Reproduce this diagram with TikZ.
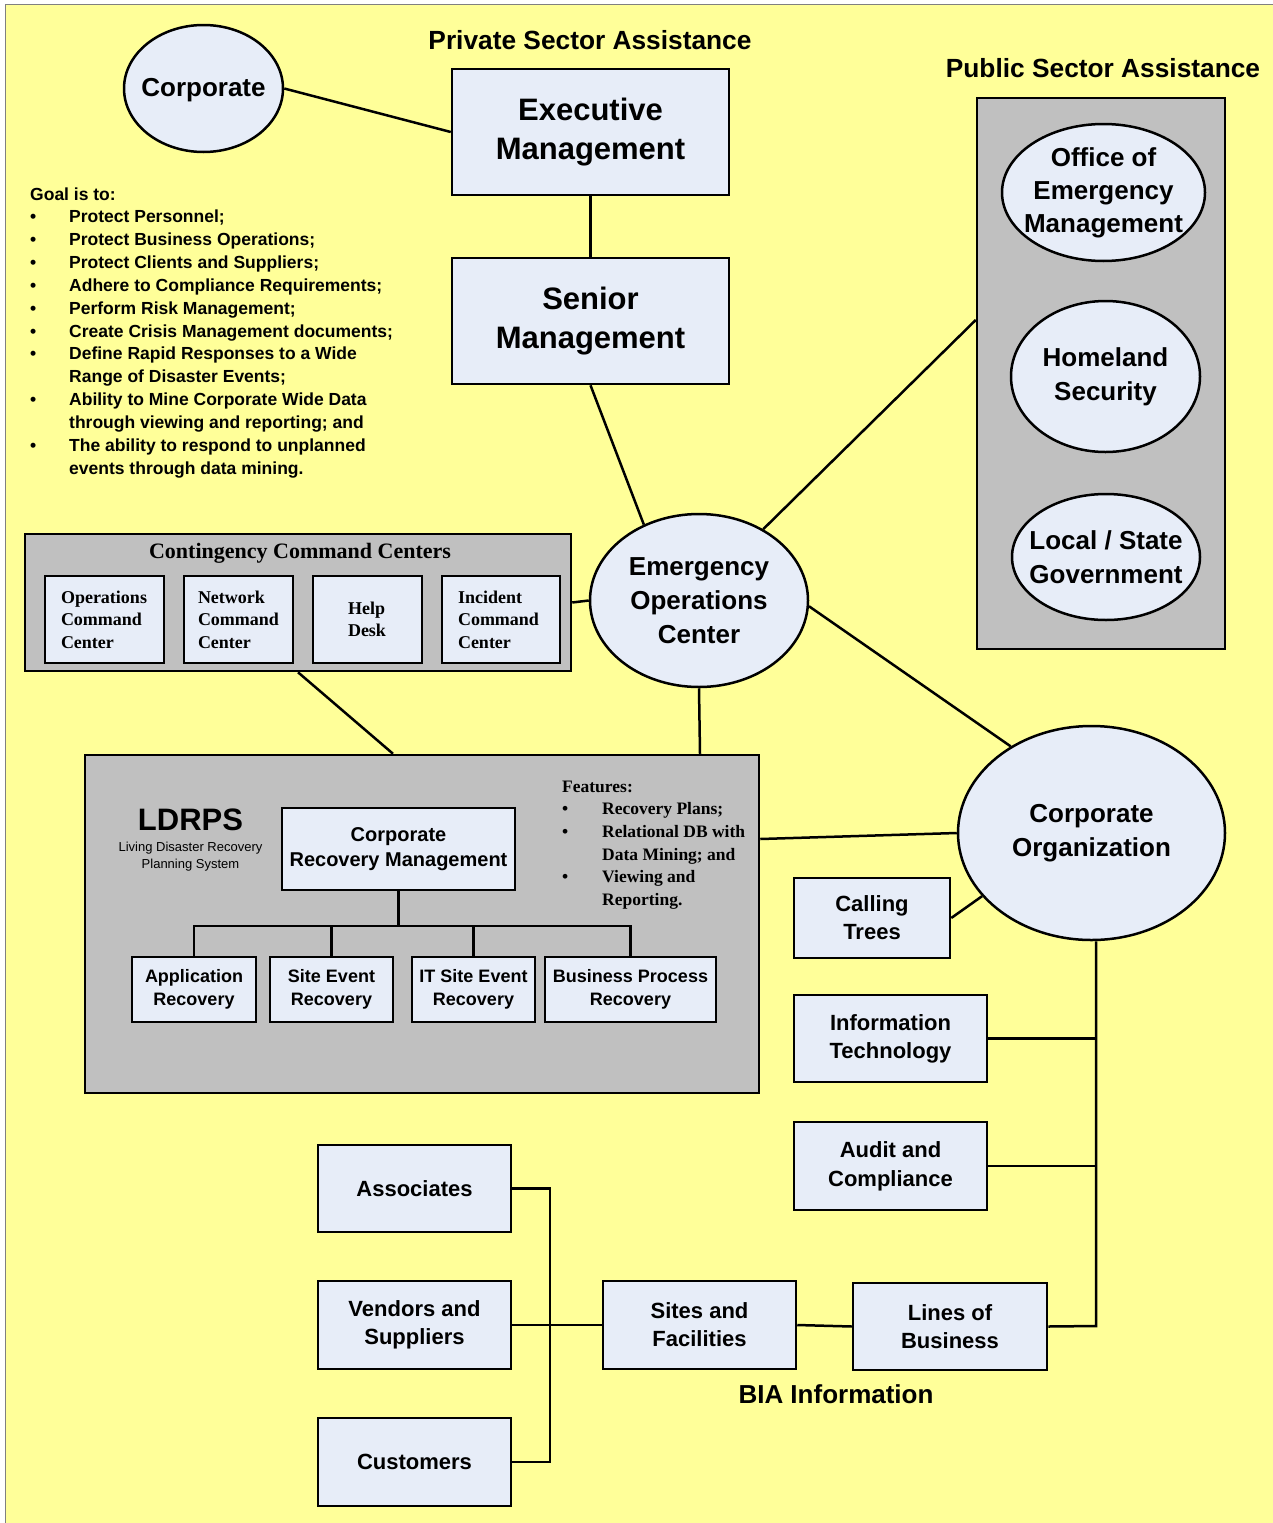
\documentclass[tikz,border=0pt]{standalone}
\usepackage{fontspec}
\setmainfont{Liberation Sans}
\newfontfamily\timesbf{Liberation Serif}
\usetikzlibrary{shapes.geometric}

\definecolor{bgyellow}{HTML}{FFFF99}
\definecolor{framegray}{HTML}{808080}
\definecolor{panelgray}{HTML}{C0C0C0}
\definecolor{cellfill}{HTML}{E7EDF8}

% font size in points with baseline skip
\newcommand\pxfont[2]{\fontsize{#1pt}{#2pt}\selectfont}

\begin{document}
\begin{tikzpicture}[x=1pt,y=-1pt,
  cell/.style={draw, line width=2.5pt, fill=cellfill, inner sep=0pt, align=center},
  panel/.style={draw, line width=2.5pt, fill=panelgray, inner sep=0pt},
  oval/.style={ellipse, draw, line width=2.5pt, fill=cellfill, inner sep=0pt},
  wh/.style 2 args={minimum width=#1pt, minimum height=#2pt},
  conn/.style={line width=2.5pt},
  lbl/.style={inner sep=0pt, align=center},
  goal/.style={inner sep=0pt, anchor=base west, font=\bfseries\pxfont{17.5}{23}},
  feat/.style={inner sep=0pt, anchor=base west, font=\timesbf\bfseries\pxfont{17.5}{22.7}},
  ccell/.style={cell, wh={#1}{87}, align=left, font=\timesbf\bfseries\pxfont{18}{22.5}},
]

% page and frame
\useasboundingbox (0,0) rectangle (1273,1523);
\fill[bgyellow] (5,4) rectangle (1273,1523);
\draw[line width=1.5pt, framegray] (5.5,1523) -- (5.5,4.5) -- (1273,4.5);

% headings
\node[lbl, anchor=base, font=\bfseries\pxfont{26.3}{30}] (privhead) at (590,49) {Private Sector Assistance};
\node[lbl, anchor=base, font=\bfseries\pxfont{26.3}{30}] (pubhead) at (1103,77) {Public Sector Assistance};
\node[lbl, anchor=base, font=\bfseries\pxfont{26}{30}] (biahead) at (836,1403) {BIA Information};

% private sector chain
\node[oval, wh={159}{127}] (corp) at (203.5,88.5) {};
\node[lbl, anchor=base, font=\bfseries\pxfont{26}{32}] (corptext) at (203.5,96.5) {Corporate};
\node[cell, wh={277}{126}, font=\bfseries\pxfont{31}{39}] (exec) at (590.5,132) {Executive\\Management};
\node[cell, wh={277}{126}, font=\bfseries\pxfont{31}{39}] (senior) at (590.5,321) {Senior\\Management};

% public sector panel
\node[panel, wh={248}{551}] (pub) at (1101,373.5) {};
\node[oval, wh={203}{137}] (oem) at (1103.5,192.5) {};
\node[lbl, font=\bfseries\pxfont{26}{33}] (oemtext) at (oem) {Office of\\Emergency\\Management};
\node[oval, wh={189}{151}] (hs) at (1105.5,376.5) {};
\node[lbl, font=\bfseries\pxfont{26}{34}] (hstext) at (hs) {Homeland\\Security};
\node[oval, wh={188}{126}] (lsg) at (1106,557) {};
\node[lbl, font=\bfseries\pxfont{26}{34}] (lsgtext) at (lsg) {Local / State\\Government};

% goals
\node[goal] (g0) at (30,200) {Goal is to:};
\node[goal] (g1) at (30,222.8) {\makebox[39pt][l]{\textbullet}Protect Personnel;};
\node[goal] (g2) at (30,245.7) {\makebox[39pt][l]{\textbullet}Protect Business Operations;};
\node[goal] (g3) at (30,268.5) {\makebox[39pt][l]{\textbullet}Protect Clients and Suppliers;};
\node[goal] (g4) at (30,291.3) {\makebox[39pt][l]{\textbullet}Adhere to Compliance Requirements;};
\node[goal] (g5) at (30,314.2) {\makebox[39pt][l]{\textbullet}Perform Risk Management;};
\node[goal] (g6) at (30,337) {\makebox[39pt][l]{\textbullet}Create Crisis Management documents;};
\node[goal] (g7) at (30,359.8) {\makebox[39pt][l]{\textbullet}Define Rapid Responses to a Wide};
\node[goal] (g8) at (30,382.7) {\hspace*{39pt}Range of Disaster Events;};
\node[goal] (g9) at (30,405.5) {\makebox[39pt][l]{\textbullet}Ability to Mine Corporate Wide Data};
\node[goal] (g10) at (30,428.3) {\hspace*{39pt}through viewing and reporting; and};
\node[goal] (g11) at (30,451.2) {\makebox[39pt][l]{\textbullet}The ability to respond to unplanned};
\node[goal] (g12) at (30,474) {\hspace*{39pt}events through data mining.};

% emergency operations center
\node[oval, wh={218}{173}] (eoc) at (699,600.5) {};
\node[lbl, font=\bfseries\pxfont{26}{34}] (eoctext) at (eoc) {Emergency\\Operations\\Center};

% contingency command centers
\node[panel, wh={546}{137}] (ccc) at (298,602.5) {};
\node[lbl, anchor=base, font=\timesbf\bfseries\pxfont{22}{26}] (ccctitle) at (300,558.5) {Contingency Command Centers};
\node[ccell=119, text width=87pt, inner xsep=16pt] (ops) at (104.5,619.5) {Operations\\Command\\Center};
\node[ccell=109, text width=81pt, inner xsep=14pt] (net) at (238.5,619.5) {Network\\Command\\Center};
\node[ccell=109, text width=39pt, inner xsep=35pt] (help) at (367.5,619.5) {Help\\Desk};
\node[ccell=118, text width=86pt, inner xsep=16pt] (inc) at (501,619.5) {Incident\\Command\\Center};

% LDRPS panel
\node[panel, wh={674}{338}] (ldrps) at (422,924) {};
\node[lbl, anchor=base, font=\bfseries\pxfont{31}{36}] (ldrpsname) at (190.5,830) {LDRPS};
\node[lbl, font=\pxfont{13}{17}] (ldrpssub) at (190.5,857) {Living Disaster Recovery\\Planning System};
\node[cell, wh={233}{82}, font=\bfseries\pxfont{20}{25}] (crm) at (398.5,849) {Corporate\\Recovery Management};
\node[cell, wh={124}{65}, font=\bfseries\pxfont{18}{22.5}] (app) at (194,989.5) {Application\\Recovery};
\node[cell, wh={123}{65}, font=\bfseries\pxfont{18}{22.5}] (site) at (331.5,989.5) {Site Event\\Recovery};
\node[cell, wh={123}{65}, font=\bfseries\pxfont{18}{22.5}] (itsite) at (473.5,989.5) {IT Site Event\\Recovery};
\node[cell, wh={171}{65}, font=\bfseries\pxfont{18}{22.5}] (bp) at (630.5,989.5) {Business Process\\Recovery};
\node[feat] (f0) at (562,792) {Features:};
\node[feat] (f1) at (562,814.7) {\makebox[40pt][l]{\textbullet}Recovery Plans;};
\node[feat] (f2) at (562,837.4) {\makebox[40pt][l]{\textbullet}Relational DB with};
\node[feat] (f3) at (562,860) {\hspace*{40pt}Data Mining; and};
\node[feat] (f4) at (562,882.7) {\makebox[40pt][l]{\textbullet}Viewing and};
\node[feat] (f5) at (562,905.4) {\hspace*{40pt}Reporting.};

% corporate organization and its units
\node[oval, wh={267}{214}] (corporg) at (1091.5,833) {};
\node[lbl, font=\bfseries\pxfont{26}{34}] (corporgtext) at (corporg) {Corporate\\Organization};
\node[cell, wh={156}{80}, font=\bfseries\pxfont{22}{28}] (calling) at (872,918) {Calling\\Trees};
\node[cell, wh={193}{87}, font=\bfseries\pxfont{22}{28}] (it) at (890.5,1038.5) {Information\\Technology};
\node[cell, wh={193}{88}, font=\bfseries\pxfont{22}{29}] (audit) at (890.5,1166) {Audit and\\Compliance};
\node[cell, wh={194}{87}, font=\bfseries\pxfont{22}{28}] (lob) at (950,1326.5) {Lines of\\Business};
\node[cell, wh={193}{88}, font=\bfseries\pxfont{22}{28}] (sites) at (699.5,1325) {Sites and\\Facilities};
\node[cell, wh={193}{88}, font=\bfseries\pxfont{22}{28}] (vendors) at (414.5,1325) {Vendors and\\Suppliers};
\node[cell, wh={193}{87}, font=\bfseries\pxfont{22}{28}] (assoc) at (414.5,1188.5) {Associates};
\node[cell, wh={193}{88}, font=\bfseries\pxfont{22}{28}] (cust) at (414.5,1462) {Customers};

% junction points
\coordinate (bar) at (398.5,926);
\coordinate (trunk) at (1096,1326);
\coordinate (spine) at (550,1325);

% connectors
\draw[conn] (corp.east) -- (exec.west);
\draw[conn] (exec.south) -- (senior.north);
\draw[conn] (senior.south) -- (eoc.126);
\draw[conn] (eoc.48) -- ([yshift=53.5pt]pub.west);
\draw[conn] (ccc.east) -- (eoc.west);
\draw[conn] (eoc.-3) -- (corporg.133);
\draw[conn] (ccc.south) -- ([xshift=-29pt]ldrps.north);
\draw[conn] (eoc.south) -- ([xshift=278pt]ldrps.north);
\draw[conn] ([yshift=85pt]ldrps.east) -- (corporg.west);
\draw[conn] (calling.east) -- (corporg.210);

\draw[conn] (crm.south) -- (bar);
\draw[conn] (app.north) |- (bar) -| (bp.north);
\draw[conn] (site.north) -- (site.north |- bar);
\draw[conn] (itsite.north) -- (itsite.north |- bar);

\draw[conn] ([xshift=4.5pt]corporg.south) -- (trunk) -- (lob.east);
\draw[conn] (it.east) -- (it.east -| trunk);
\draw[conn] (audit.east) -- (audit.east -| trunk);

\draw[conn] (assoc.east) -| (spine) |- (cust.east);
\draw[conn] (vendors.east) -- (sites.west);
\draw[conn] (sites.east) -- (lob.west);

\end{tikzpicture}
\end{document}
